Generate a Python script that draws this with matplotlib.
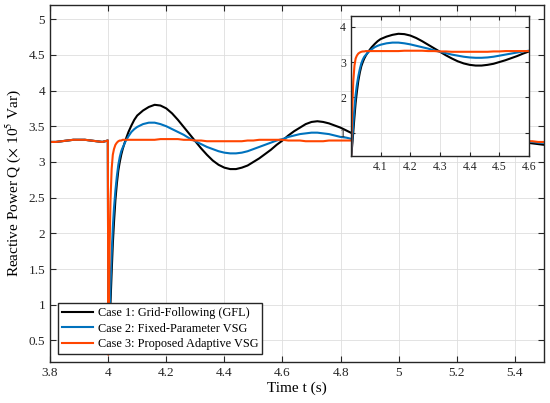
import matplotlib
matplotlib.use("Agg")
import matplotlib.pyplot as plt
from matplotlib.ticker import FormatStrFormatter

plt.rcParams['font.family'] = ['Liberation Serif', 'DejaVu Serif']
plt.rcParams['mathtext.fontset'] = 'stix'

# time axis (s)
t = [3.80, 3.82, 3.84, 3.86, 3.88, 3.90, 3.92, 3.94, 3.96, 3.98, 3.999,
     4.0005, 4.002, 4.005, 4.008, 4.012, 4.016, 4.02, 4.025, 4.03, 4.035,
     4.04, 4.045, 4.05, 4.06, 4.07, 4.08, 4.09, 4.10,
     4.12, 4.14, 4.16, 4.18, 4.20, 4.22, 4.24, 4.26, 4.28, 4.30,
     4.32, 4.34, 4.36, 4.38, 4.40, 4.42, 4.44, 4.46, 4.48, 4.50,
     4.52, 4.54, 4.56, 4.58, 4.60, 4.62, 4.64, 4.66, 4.68, 4.70,
     4.72, 4.74, 4.76, 4.78, 4.80, 4.82, 4.84,
     4.86, 4.88, 4.90, 4.92, 4.94, 4.96, 4.98, 5.00, 5.02, 5.04,
     5.06, 5.08, 5.10, 5.12, 5.14, 5.16, 5.18, 5.20, 5.22, 5.24,
     5.26, 5.28, 5.30, 5.32, 5.34, 5.36, 5.38, 5.40, 5.42, 5.44,
     5.46, 5.48, 5.50]

pre_fault = [3.28, 3.28, 3.29, 3.30, 3.31, 3.31, 3.31, 3.30, 3.29, 3.28, 3.30]

q_gfl = pre_fault + [
    0.32, 0.42, 0.70, 1.02, 1.45, 1.85, 2.15, 2.47, 2.70, 2.88,
    3.00, 3.10, 3.18, 3.31, 3.42, 3.51, 3.59, 3.65,
    3.72, 3.77, 3.80, 3.79, 3.75, 3.68, 3.59, 3.49, 3.39, 3.29,
    3.19, 3.10, 3.02, 2.96, 2.92, 2.90, 2.90, 2.92, 2.95, 3.00,
    3.05, 3.11, 3.17, 3.24, 3.30, 3.37, 3.43, 3.48, 3.53, 3.56,
    3.57, 3.56, 3.54, 3.51, 3.48, 3.44, 3.40,
    3.36, 3.32, 3.27, 3.23, 3.19, 3.16, 3.14, 3.13, 3.13, 3.14,
    3.16, 3.19, 3.22, 3.26, 3.30, 3.34, 3.37, 3.40, 3.41, 3.42,
    3.42, 3.41, 3.39, 3.37, 3.35, 3.33, 3.32, 3.30, 3.29, 3.27,
    3.26, 3.25, 3.24]

q_fixed = pre_fault + [
    0.32, 0.50, 0.85, 1.25, 1.70, 2.08, 2.35, 2.60, 2.80, 2.96,
    3.07, 3.15, 3.20, 3.29, 3.36, 3.42, 3.46, 3.49,
    3.53, 3.55, 3.55, 3.53, 3.50, 3.46, 3.42, 3.38, 3.33, 3.29,
    3.25, 3.21, 3.18, 3.15, 3.13, 3.12, 3.12, 3.13, 3.15, 3.18,
    3.21, 3.24, 3.27, 3.30, 3.32, 3.35, 3.37, 3.39, 3.40, 3.41,
    3.41, 3.40, 3.39, 3.37, 3.35, 3.34, 3.32,
    3.30, 3.28, 3.26, 3.24, 3.23, 3.22, 3.21, 3.21, 3.21, 3.22,
    3.23, 3.25, 3.26, 3.28, 3.30, 3.31, 3.33, 3.34, 3.34, 3.35,
    3.35, 3.34, 3.34, 3.33, 3.32, 3.31, 3.30, 3.29, 3.29, 3.28,
    3.28, 3.27, 3.27]

q_adaptive = pre_fault + [
    0.30, 0.90, 1.80, 2.45, 2.90, 3.10, 3.18, 3.24, 3.27, 3.29,
    3.30, 3.30, 3.31, 3.31, 3.31, 3.31, 3.31, 3.31,
    3.31, 3.31, 3.31, 3.32, 3.32, 3.32, 3.32, 3.31, 3.31, 3.30,
    3.30, 3.29, 3.29, 3.29, 3.29, 3.29, 3.29, 3.29, 3.30, 3.30,
    3.31, 3.31, 3.31, 3.31, 3.31, 3.30, 3.30, 3.30, 3.29, 3.29,
    3.29, 3.29, 3.30, 3.30, 3.30, 3.30, 3.30,
    3.30, 3.30, 3.30, 3.30, 3.29, 3.29, 3.29, 3.29, 3.29, 3.29,
    3.30, 3.30, 3.30, 3.30, 3.30, 3.30, 3.30, 3.30, 3.30, 3.30,
    3.29, 3.29, 3.29, 3.29, 3.29, 3.29, 3.29, 3.29, 3.29, 3.29,
    3.29, 3.28, 3.28]

labels = ['Case 1: Grid-Following (GFL)',
          'Case 2: Fixed-Parameter VSG',
          'Case 3: Proposed Adaptive VSG']
colors = ['#000000', '#0072BD', '#FF4500']
series = [q_gfl, q_fixed, q_adaptive]

x_ticks = [3.8, 4.0, 4.2, 4.4, 4.6, 4.8, 5.0, 5.2, 5.4]
y_ticks = [0.5, 1, 1.5, 2, 2.5, 3, 3.5, 4, 4.5, 5]
inset_x_ticks = [4.1, 4.2, 4.3, 4.4, 4.5, 4.6]
inset_y_ticks = [1, 2, 3, 4]


def style_axes(ax, size):
    ax.grid(True, color='#dedede', linewidth=0.6)
    ax.set_axisbelow(True)
    ax.tick_params(direction='in', top=True, right=True, length=4,
                   width=0.8, labelsize=size, colors='#262626')
    for sp in ax.spines.values():
        sp.set_linewidth(1.0)
        sp.set_color('#262626')
    ax.xaxis.set_major_formatter(FormatStrFormatter('%g'))
    ax.yaxis.set_major_formatter(FormatStrFormatter('%g'))


fig = plt.figure(figsize=(5.5, 4.03), dpi=100)
ax = fig.add_axes([0.091, 0.102, 0.898, 0.886])
for q, c, lab in zip(series, colors, labels):
    ax.plot(t, q, color=c, lw=1.5, label=lab)
ax.set_xlim(3.8, 5.5)
ax.set_ylim(0.2, 5.2)
ax.set_xticks(x_ticks)
ax.set_yticks(y_ticks)
style_axes(ax, 9.5)
ax.set_xlabel('Time t (s)', fontsize=11, labelpad=2)
ax.set_ylabel(r'Reactive Power Q ($\times$ 10$^{5}$ Var)', fontsize=11, labelpad=4)

leg = ax.legend(loc='lower left', bbox_to_anchor=(0.016, 0.022), borderaxespad=0,
                fontsize=8.8, fancybox=False, framealpha=1, edgecolor='#262626',
                handlelength=2.6, handletextpad=0.4, labelspacing=0.3,
                borderpad=0.3)
leg.get_frame().set_linewidth(1.0)

# zoomed view of the transient
axin = fig.add_axes([0.638, 0.613, 0.324, 0.347])
for q, c in zip(series, colors):
    axin.plot(t, q, color=c, lw=1.5)
axin.set_xlim(4.0, 4.6)
axin.set_ylim(0.34, 4.3)
axin.set_xticks(inset_x_ticks)
axin.set_yticks(inset_y_ticks)
style_axes(axin, 8.5)
axin.tick_params(length=3)

fig.savefig('out.png', dpi=100)
